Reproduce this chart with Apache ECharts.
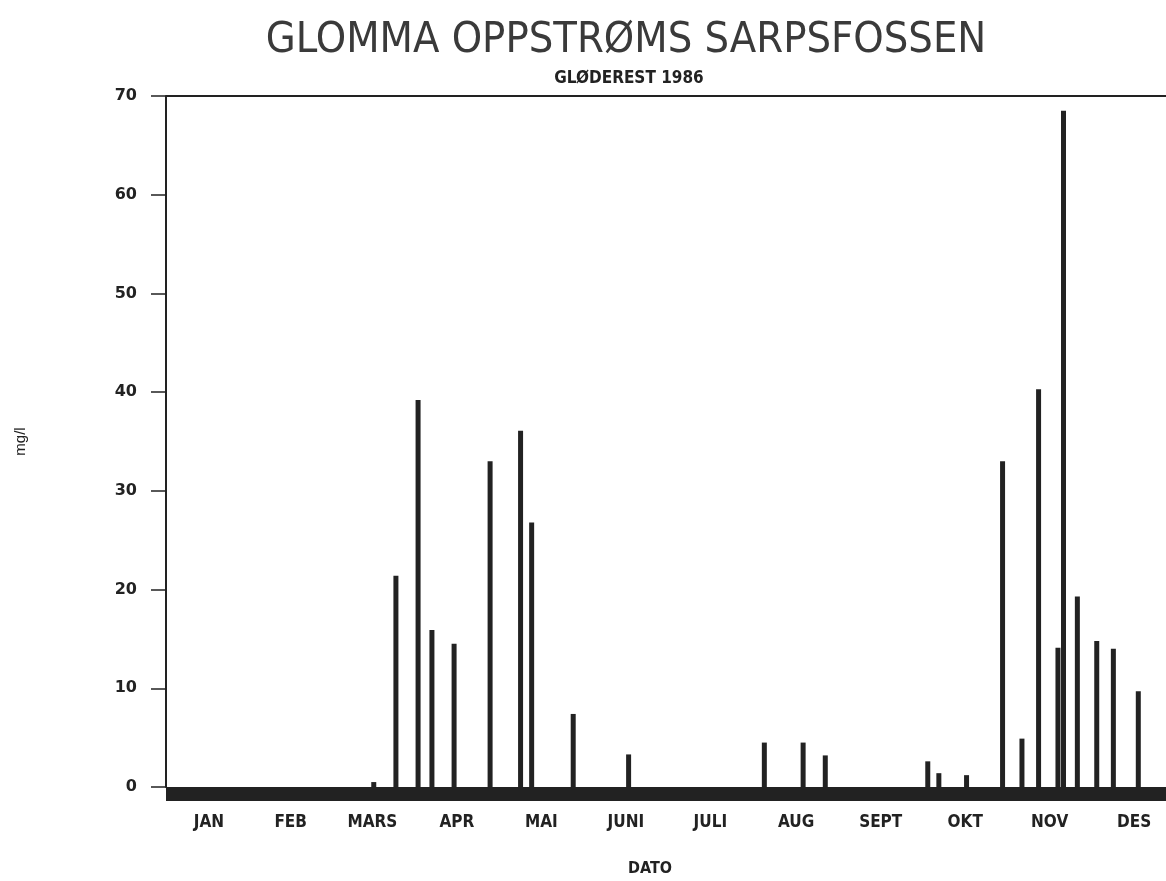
<!DOCTYPE html>
<html>
<head>
<meta charset="utf-8">
<script src="https://cdn.jsdelivr.net/npm/echarts@6/dist/echarts.min.js"></script>
<style>html,body{margin:0;padding:0;background:#fff}#c{width:1166px;height:881px}</style>
</head>
<body>
<div id="c"></div>
<script>
// Day of year (1986) of each sample
const sampleDays = [75, 83, 91, 96, 104, 117, 128, 132, 147, 167, 216, 230, 238, 275, 279, 289, 302, 309, 315, 322, 324, 329, 336, 342, 351];
// Glødeerest, mg/l
const glodeRest = [0.5, 21.4, 39.2, 15.9, 14.5, 33.0, 36.1, 26.8, 7.4, 3.3, 4.5, 4.5, 3.2, 2.6, 1.4, 1.2, 33.0, 4.9, 40.3, 14.1, 68.5, 19.3, 14.8, 14.0, 9.7];
// Month labels (placed at mid-month)
const monthLabels = ['JAN','FEB','MARS','APR','MAI','JUNI','JULI','AUG','SEPT','OKT','NOV','DES'];
const monthMidDays = [15.5, 45, 74.5, 105, 135.5, 166, 196.5, 227.5, 258, 288.5, 319, 349.5];
// Visible part of the year on the x axis (the plot is cut at the right edge)
const dayMin = 0, dayMax = 361;

const ink = '#222';
const chart = echarts.init(document.getElementById('c'), null, {renderer: 'canvas'});
const seriesData = sampleDays.map((d, i) => [d, glodeRest[i]]);

chart.setOption({
  backgroundColor: '#fff',
  animation: false,
  title: [
    {text: 'GLOMMA OPPSTRØMS SARPSFOSSEN', left: 621, top: 14, textAlign: 'center',
     textStyle: {fontFamily: 'DejaVu Sans Condensed', fontWeight: 300, fontSize: 43, color: '#3a3a3a'}},
    {text: 'GLØDEREST 1986', left: 624, top: 65, textAlign: 'center',
     textStyle: {fontFamily: 'DejaVu Sans Condensed', fontWeight: 'bold', fontSize: 17, color: ink}},
    {text: 'DATO', left: 645, top: 856, textAlign: 'center',
     textStyle: {fontFamily: 'DejaVu Sans Condensed', fontWeight: 'bold', fontSize: 16, color: ink}}
  ],
  grid: {left: 166, right: 0, top: 96, bottom: 94, containLabel: false},
  xAxis: [
    {type: 'value', min: dayMin, max: dayMax, position: 'bottom',
     axisLine: {show: false}, axisTick: {show: false}, splitLine: {show: false},
     axisLabel: {customValues: monthMidDays, margin: 27,
       formatter: v => monthLabels[monthMidDays.indexOf(v)] || '',
       fontFamily: 'DejaVu Sans Condensed', fontWeight: 'bold', fontSize: 17, color: ink}},
    {type: 'value', min: dayMin, max: dayMax, position: 'bottom', offset: 7,
     axisLine: {show: true, lineStyle: {color: ink, width: 14, cap: 'butt'}},
     axisTick: {show: false}, axisLabel: {show: false}, splitLine: {show: false}},
    {type: 'value', min: dayMin, max: dayMax, position: 'top',
     axisLine: {show: true, lineStyle: {color: ink, width: 2, cap: 'butt'}},
     axisTick: {show: false}, axisLabel: {show: false}, splitLine: {show: false}}
  ],
  yAxis: {
    type: 'value', min: 0, max: 70, interval: 10,
    name: 'mg/l', nameLocation: 'middle', nameGap: 138, nameRotate: 90,
    nameTextStyle: {fontFamily: 'Liberation Sans', fontSize: 15, color: ink},
    axisLine: {show: true, lineStyle: {color: ink, width: 2}},
    axisTick: {show: true, length: 15, lineStyle: {color: ink, width: 1.5}},
    axisLabel: {margin: 29, fontFamily: 'DejaVu Sans', fontWeight: 'bold', fontSize: 16, color: ink},
    splitLine: {show: false}
  },
  series: [{
    type: 'bar', xAxisIndex: 0, data: seriesData, barWidth: 5,
    itemStyle: {color: ink}
  }]
});
</script>
</body>
</html>
